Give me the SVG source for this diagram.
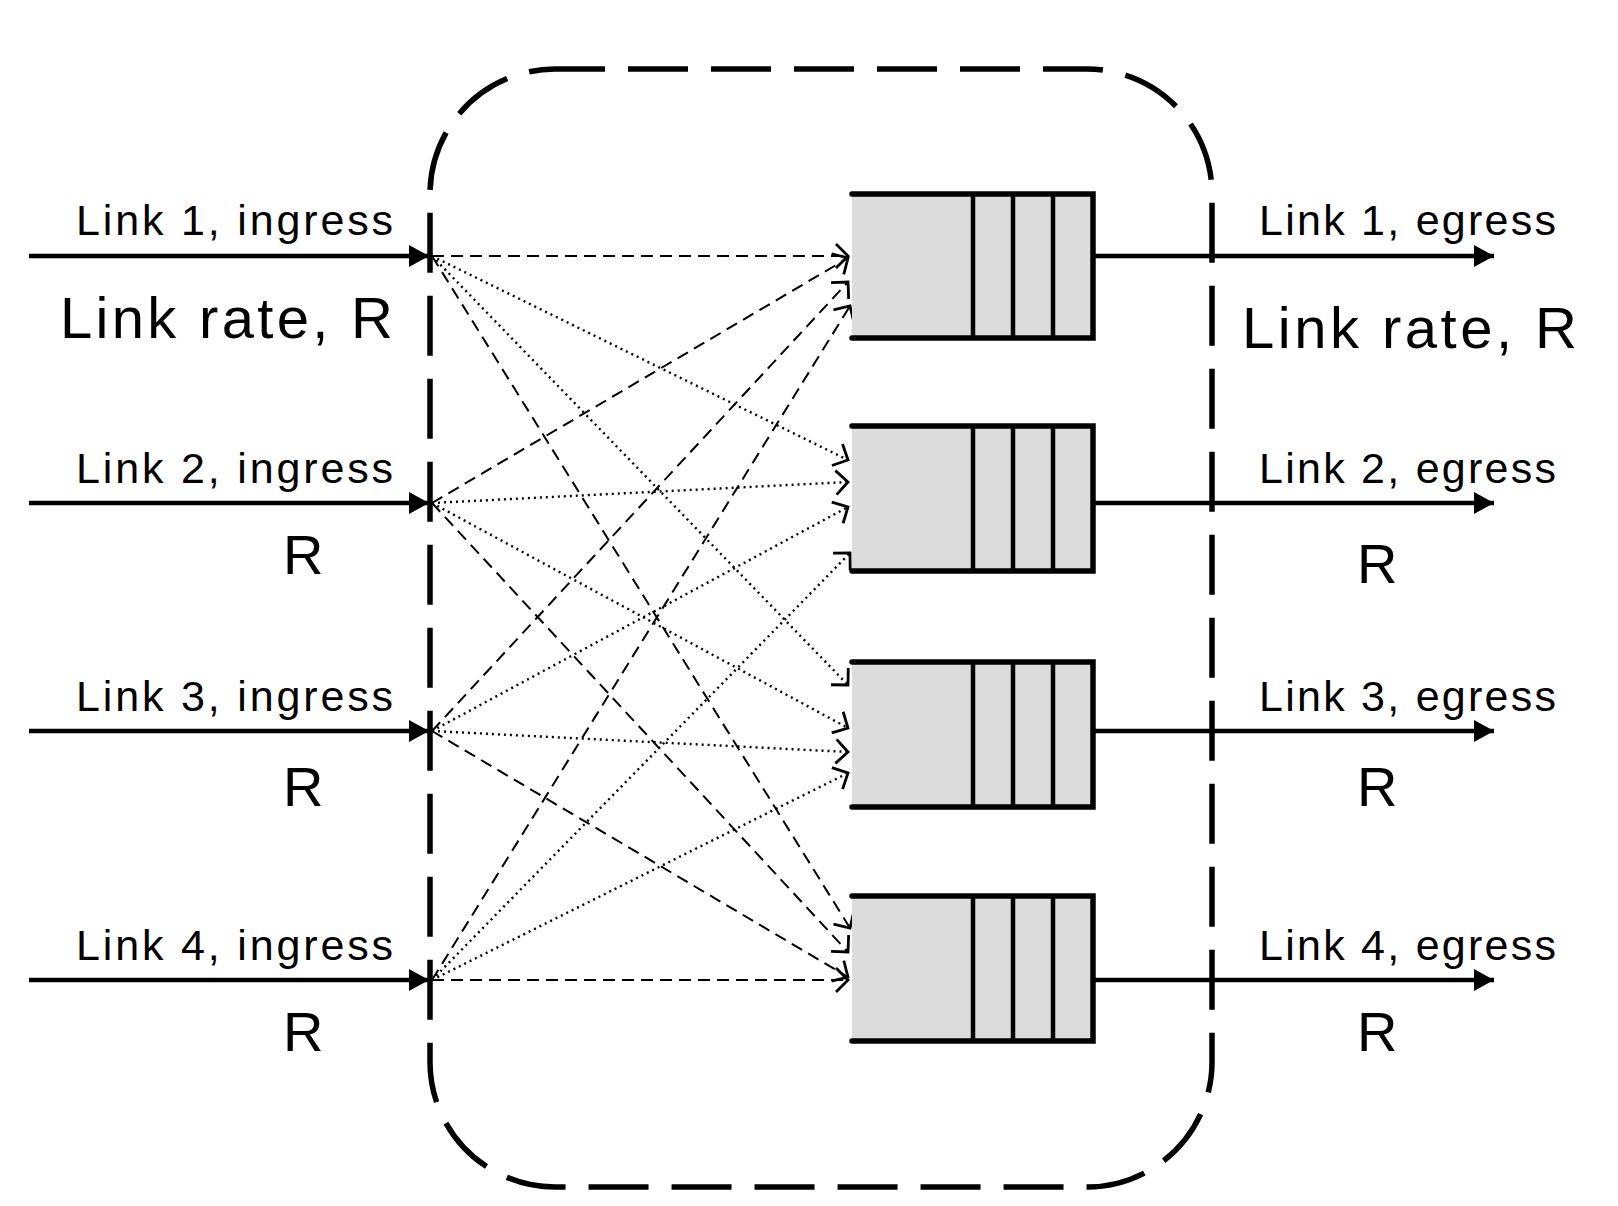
<svg xmlns="http://www.w3.org/2000/svg" width="1618" height="1206" viewBox="0 0 1618 1206">
<style>
  .lbl { font-family: "Liberation Sans", Arial, sans-serif; fill: #000; }
  .small { font-size: 43px; }
  .big { font-size: 58px; }
  .r { font-size: 56px; }
  .link { stroke: #000; stroke-width: 4.5; fill: none; }
  .qfill { fill: #dcdcdc; stroke: none; }
  .qline { stroke: #000; stroke-width: 5.5; fill: none; stroke-linecap: round; }
  .qdiv { stroke: #000; stroke-width: 4.5; fill: none; }
  .dash { stroke: #000; stroke-width: 2; fill: none; stroke-dasharray: 12 7; marker-end: url(#open); }
  .dot { stroke: #000; stroke-width: 2.4; fill: none; stroke-dasharray: 2 4; marker-end: url(#open); }
</style>
<defs>
  <marker id="open" markerUnits="userSpaceOnUse" viewBox="-2 -2 16 28" markerWidth="16" markerHeight="28" refX="12" refY="12" orient="auto" overflow="visible">
    <path d="M0,0 L12,12 L0,24" fill="none" stroke="#000" stroke-width="2.8" stroke-linejoin="miter"/>
  </marker>
  <marker id="solid" markerUnits="userSpaceOnUse" viewBox="0 0 20 22" markerWidth="20" markerHeight="22" refX="20" refY="11" orient="auto">
    <path d="M0,0 L20,11 L0,22 Z" fill="#000"/>
  </marker>
</defs>
<rect width="1618" height="1206" fill="#fff"/>

<g id="switch-boundary">
  <rect x="430" y="69" width="782" height="1118" rx="125" ry="125" fill="none" stroke="#000" stroke-width="5.5" stroke-dasharray="60 23" stroke-dashoffset="10"/>
</g>

<g id="connectors">
  <line class="dash" x1="432" y1="256" x2="848" y2="256"/>
  <line class="dot"  x1="432" y1="256" x2="848" y2="460"/>
  <line class="dot"  x1="432" y1="256" x2="848" y2="685"/>
  <line class="dash" x1="432" y1="256" x2="850" y2="928"/>

  <line class="dash" x1="432" y1="503" x2="848" y2="258"/>
  <line class="dot"  x1="432" y1="503" x2="848" y2="482"/>
  <line class="dot"  x1="432" y1="503" x2="848" y2="728"/>
  <line class="dash" x1="432" y1="503" x2="848" y2="952"/>

  <line class="dash" x1="432" y1="731" x2="848" y2="282"/>
  <line class="dot"  x1="432" y1="731" x2="848" y2="507"/>
  <line class="dot"  x1="432" y1="731" x2="848" y2="752"/>
  <line class="dash" x1="432" y1="731" x2="848" y2="977"/>

  <line class="dash" x1="432" y1="980" x2="850" y2="306"/>
  <line class="dot"  x1="432" y1="980" x2="850" y2="553"/>
  <line class="dot"  x1="432" y1="980" x2="848" y2="773"/>
  <line class="dash" x1="432" y1="980" x2="848" y2="980"/>
</g>

<g id="ingress-1">
  <line class="link" x1="29" y1="256" x2="429" y2="256" marker-end="url(#solid)"/>
  <text class="lbl small" x="76" y="235" textLength="317" lengthAdjust="spacing">Link 1, ingress</text>
  <text class="lbl big" x="60" y="338" textLength="333" lengthAdjust="spacing">Link rate, R</text>
</g>
<g id="ingress-2">
  <line class="link" x1="29" y1="503" x2="429" y2="503" marker-end="url(#solid)"/>
  <text class="lbl small" x="76" y="483" textLength="317" lengthAdjust="spacing">Link 2, ingress</text>
  <text class="lbl r" x="283" y="574">R</text>
</g>
<g id="ingress-3">
  <line class="link" x1="29" y1="731" x2="429" y2="731" marker-end="url(#solid)"/>
  <text class="lbl small" x="76" y="711" textLength="317" lengthAdjust="spacing">Link 3, ingress</text>
  <text class="lbl r" x="283" y="806">R</text>
</g>
<g id="ingress-4">
  <line class="link" x1="29" y1="980" x2="429" y2="980" marker-end="url(#solid)"/>
  <text class="lbl small" x="76" y="960" textLength="317" lengthAdjust="spacing">Link 4, ingress</text>
  <text class="lbl r" x="283" y="1051">R</text>
</g>

<g id="queue-1">
  <rect class="qfill" x="852" y="194" width="241" height="144"/>
  <path class="qline" d="M852,194 H1093 V338 H852"/>
  <path class="qdiv" d="M973,194 V338 M1013,194 V338 M1053,194 V338"/>
</g>
<g id="queue-2">
  <rect class="qfill" x="852" y="426" width="241" height="145"/>
  <path class="qline" d="M852,426 H1093 V571 H852"/>
  <path class="qdiv" d="M973,426 V571 M1013,426 V571 M1053,426 V571"/>
</g>
<g id="queue-3">
  <rect class="qfill" x="852" y="662" width="241" height="145"/>
  <path class="qline" d="M852,662 H1093 V807 H852"/>
  <path class="qdiv" d="M973,662 V807 M1013,662 V807 M1053,662 V807"/>
</g>
<g id="queue-4">
  <rect class="qfill" x="852" y="896" width="241" height="145"/>
  <path class="qline" d="M852,896 H1093 V1041 H852"/>
  <path class="qdiv" d="M973,896 V1041 M1013,896 V1041 M1053,896 V1041"/>
</g>

<g id="egress-1">
  <line class="link" x1="1093" y1="256" x2="1494" y2="256" marker-end="url(#solid)"/>
  <text class="lbl small" x="1259" y="235" textLength="297" lengthAdjust="spacing">Link 1, egress</text>
  <text class="lbl big" x="1242" y="348" textLength="335" lengthAdjust="spacing">Link rate, R</text>
</g>
<g id="egress-2">
  <line class="link" x1="1093" y1="503" x2="1494" y2="503" marker-end="url(#solid)"/>
  <text class="lbl small" x="1259" y="483" textLength="297" lengthAdjust="spacing">Link 2, egress</text>
  <text class="lbl r" x="1357" y="583">R</text>
</g>
<g id="egress-3">
  <line class="link" x1="1093" y1="731" x2="1494" y2="731" marker-end="url(#solid)"/>
  <text class="lbl small" x="1259" y="711" textLength="297" lengthAdjust="spacing">Link 3, egress</text>
  <text class="lbl r" x="1357" y="806">R</text>
</g>
<g id="egress-4">
  <line class="link" x1="1093" y1="980" x2="1494" y2="980" marker-end="url(#solid)"/>
  <text class="lbl small" x="1259" y="960" textLength="297" lengthAdjust="spacing">Link 4, egress</text>
  <text class="lbl r" x="1357" y="1051">R</text>
</g>
</svg>
